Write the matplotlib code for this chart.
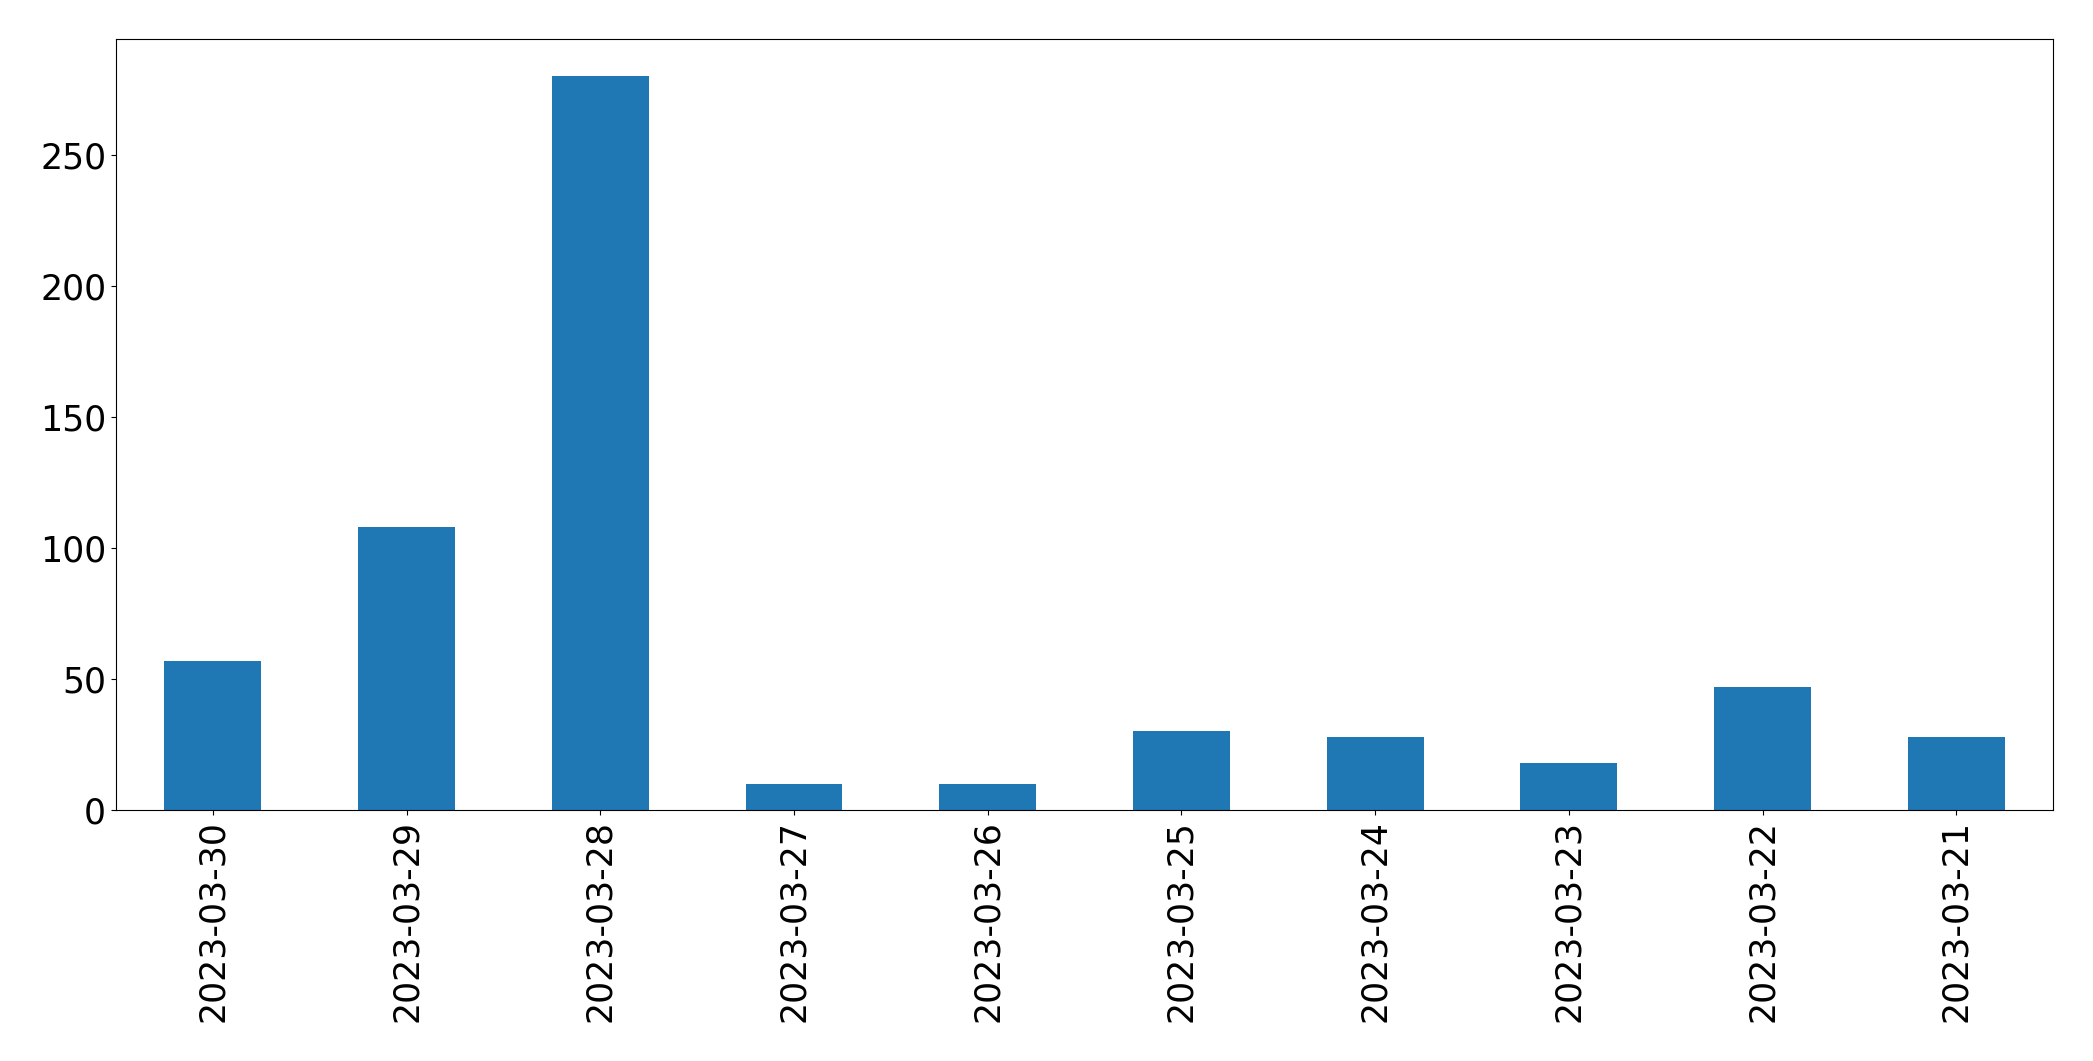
import numpy as np
import matplotlib
matplotlib.use("Agg")
import matplotlib.pyplot as plt

# Counts per day
dates = ["2023-03-30", "2023-03-29", "2023-03-28", "2023-03-27", "2023-03-26",
         "2023-03-25", "2023-03-24", "2023-03-23", "2023-03-22", "2023-03-21"]
counts = [57, 108, 280, 10, 10, 30, 28, 18, 47, 28]

fig = plt.figure(figsize=(20.93, 10.61), dpi=100)
ax = fig.add_axes([0.0554, 0.2366, 0.9256, 0.7264])

x = np.arange(len(dates))
ax.bar(x, counts, width=0.5, color="#1f77b4")
ax.set_xlim(-0.5, len(dates) - 0.5)
ax.set_ylim(0, max(counts) * 1.05)
ax.set_xticks(x)
ax.set_xticklabels(dates, rotation=90)
ax.tick_params(labelsize=25)

fig.savefig("out.png", dpi=100)
